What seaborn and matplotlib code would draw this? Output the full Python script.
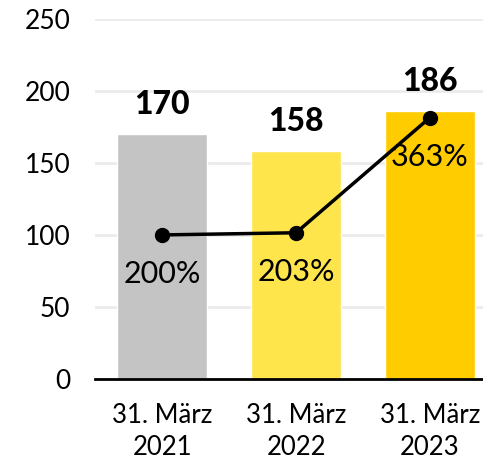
import matplotlib
matplotlib.use("Agg")
import matplotlib.pyplot as plt
import seaborn as sns
import numpy as np
import pandas as pd

categories = ["31. März\n2021", "31. März\n2022", "31. März\n2023"]
values = [170, 158, 186]
ratios = [200, 203, 363]
bar_colors = ["#c4c4c4", "#ffe54c", "#ffcc00"]

sns.set_style("white")
plt.rcParams["font.family"] = ["Lato", "DejaVu Sans"]
plt.rcParams["text.color"] = "black"
plt.rcParams["xtick.color"] = "black"
plt.rcParams["ytick.color"] = "black"

df = pd.DataFrame({"date": categories, "value": values})

fig = plt.figure(figsize=(4.83, 4.61), dpi=100)
ax = fig.add_axes([0.197, 0.178, 0.803, 0.781])

sns.barplot(data=df, x="date", y="value", hue="date", palette=bar_colors,
            width=0.67, saturation=1, legend=False, ax=ax, zorder=2)

ax.set_ylim(0, 250)
ax.set_xlim(-0.5, 2.396)
ax.set_yticks(range(0, 251, 50))
ax.yaxis.grid(True, color="#ebebeb", linewidth=2, zorder=0)
ax.set_axisbelow(True)
for s in ["top", "right", "left"]:
    ax.spines[s].set_visible(False)
ax.spines["bottom"].set_color("black")
ax.spines["bottom"].set_linewidth(2)
ax.tick_params(axis="y", length=0, pad=18, labelsize=19)
ax.tick_params(axis="x", length=0, pad=17, labelsize=18.5)
for lab in ax.get_xticklabels():
    lab.set_linespacing(1.35)
ax.set_xlabel("")
ax.set_ylabel("")

for i, v in enumerate(values):
    ax.text(i, v + 14, str(v), ha="center", va="baseline", fontsize=23,
            fontweight="black")

# ratio line on hidden secondary axis
ax2 = ax.twinx()
ax2.set_ylim(0, 500)
ax2.set_axis_off()
x = np.arange(len(ratios))
ax2.plot(x, ratios, color="black", linewidth=2.5, marker="o", markersize=10,
         zorder=5)
for i, r in enumerate(ratios):
    ax2.text(i, r - 35, f"{r}%", ha="center", va="top", fontsize=22)

fig.savefig("out.png", dpi=100)
